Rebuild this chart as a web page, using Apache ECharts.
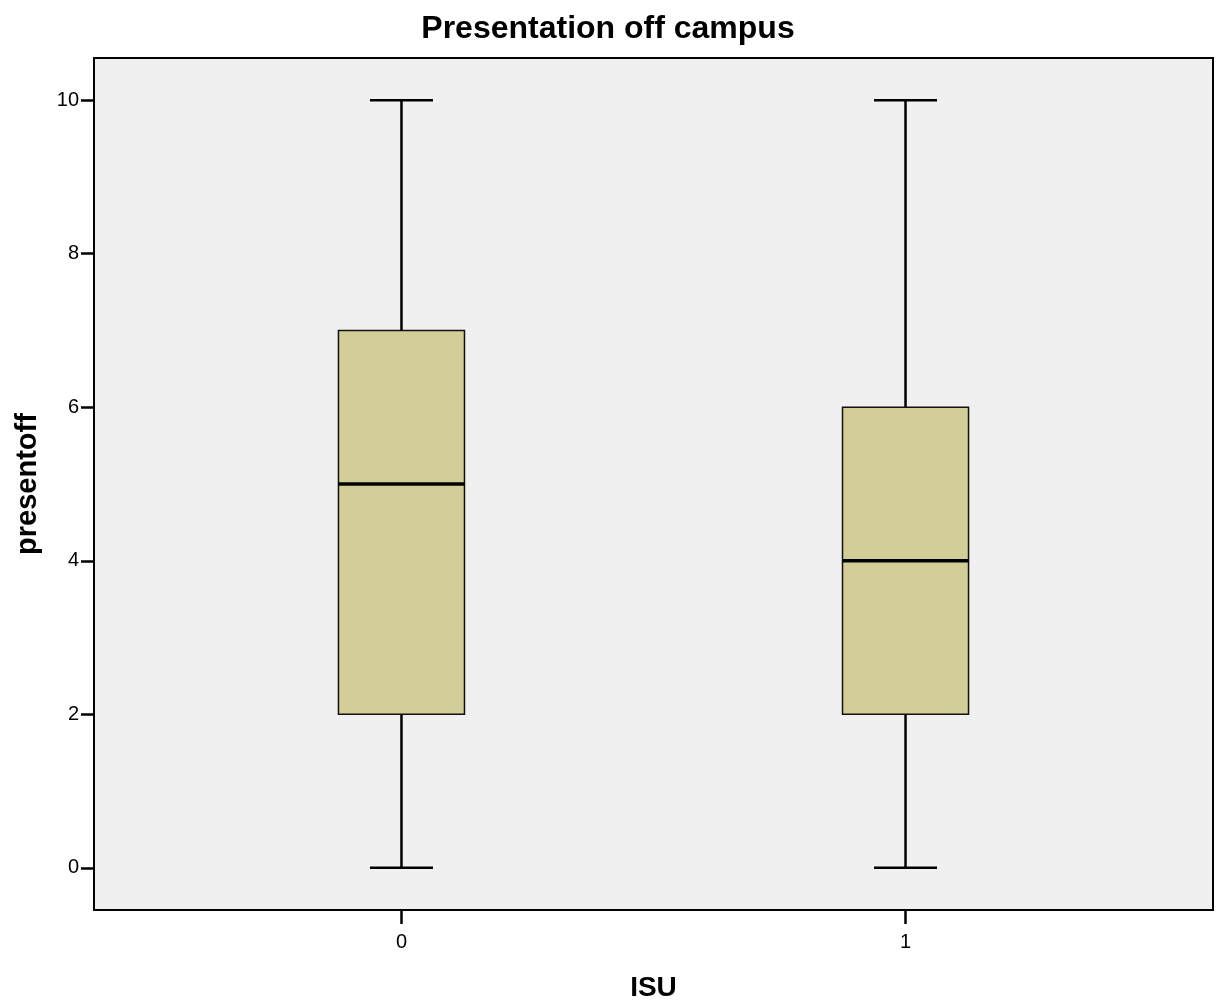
<!DOCTYPE html>
<html>
<head>
<meta charset="utf-8">
<script src="https://cdn.jsdelivr.net/npm/echarts@6/dist/echarts.min.js"></script>
<style>
  html, body { margin: 0; padding: 0; background: #fff; }
  #chart { width: 1216px; height: 1007px; }
</style>
</head>
<body>
<div id="chart"></div>
<script>
// groups on the ISU axis and the five-number summary of presentoff
const groups = [0, 1];
const mins = [0, 0];
const q1s = [2, 2];
const medians = [5, 4];
const q3s = [7, 6];
const maxs = [10, 10];
const yTicks = [0, 2, 4, 6, 8, 10];

const FONT = '"Liberation Sans", Arial, Helvetica, sans-serif';

// build rows for the custom series
const rows = groups.map((g, i) => [g, mins[i], q1s[i], medians[i], q3s[i], maxs[i]]);

function renderBox(params, api) {
  const x = api.value(0);
  const pMin = api.coord([x, api.value(1)]);
  const pQ1 = api.coord([x, api.value(2)]);
  const pMed = api.coord([x, api.value(3)]);
  const pQ3 = api.coord([x, api.value(4)]);
  const pMax = api.coord([x, api.value(5)]);
  const boxW = api.size([0.25, 0])[0];
  const capW = api.size([0.125, 0])[0];
  const cx = pMed[0];
  const line = (x1, y1, x2, y2, w) => ({
    type: 'line',
    shape: { x1: x1, y1: y1, x2: x2, y2: y2 },
    style: { stroke: '#000', lineWidth: w }
  });
  return {
    type: 'group',
    children: [
      line(cx, pQ3[1], cx, pMax[1], 2.5),
      line(cx, pMin[1], cx, pQ1[1], 2.5),
      line(cx - capW / 2, pMax[1], cx + capW / 2, pMax[1], 2.5),
      line(cx - capW / 2, pMin[1], cx + capW / 2, pMin[1], 2.5),
      {
        type: 'rect',
        shape: { x: cx - boxW / 2, y: pQ3[1], width: boxW, height: pQ1[1] - pQ3[1] },
        style: { fill: '#D3CE97', stroke: '#111', lineWidth: 1.5 }
      },
      line(cx - boxW / 2, pMed[1], cx + boxW / 2, pMed[1], 3.5)
    ]
  };
}

const myChart = echarts.init(document.getElementById('chart'));
myChart.setOption({
  animation: false,
  backgroundColor: '#fff',
  textStyle: { fontFamily: FONT },
  title: {
    text: 'Presentation off campus',
    left: 'center',
    top: 8,
    textStyle: { fontFamily: FONT, fontSize: 32, fontWeight: 'bold', color: '#000' }
  },
  grid: {
    left: 94, right: 3, top: 58, bottom: 95,
    show: true,
    backgroundColor: '#F0F0F0',
    borderColor: '#000',
    borderWidth: 2
  },
  xAxis: {
    type: 'value',
    min: -0.61,
    max: 1.61,
    name: 'ISU',
    nameLocation: 'middle',
    nameGap: 64,
    nameTextStyle: { fontFamily: FONT, fontSize: 28, fontWeight: 'bold', color: '#000' },
    axisLine: { show: false, onZero: false },
    splitLine: { show: false },
    axisTick: { show: true, length: 14, inside: false, customValues: groups, lineStyle: { color: '#000', width: 2.5 } },
    axisLabel: { customValues: groups, margin: 22, fontSize: 20, color: '#000', fontFamily: FONT }
  },
  yAxis: {
    type: 'value',
    min: -0.55,
    max: 10.55,
    name: 'presentoff',
    nameLocation: 'middle',
    nameGap: 52,
    nameTextStyle: { fontFamily: FONT, fontSize: 29, fontWeight: 'bold', color: '#000' },
    axisLine: { show: false, onZero: false },
    splitLine: { show: false },
    axisTick: { show: true, length: 13, inside: false, customValues: yTicks, lineStyle: { color: '#000', width: 2.5 } },
    axisLabel: { customValues: yTicks, margin: 15, fontSize: 20, color: '#000', fontFamily: FONT }
  },
  series: [{
    type: 'custom',
    renderItem: renderBox,
    encode: { x: 0, y: [1, 2, 3, 4, 5] },
    data: rows
  }]
});
</script>
</body>
</html>
